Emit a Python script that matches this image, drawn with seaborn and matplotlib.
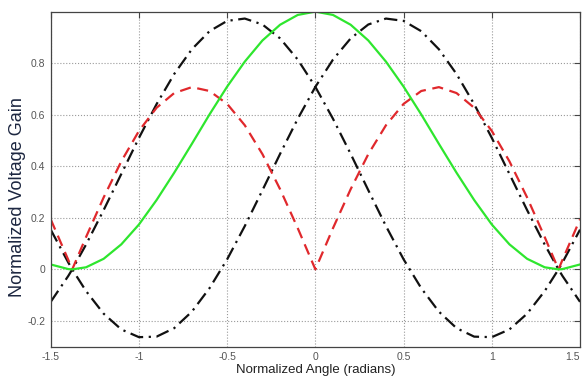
import matplotlib
matplotlib.use("Agg")
import matplotlib.pyplot as plt
import seaborn as sns
import pandas as pd

# Normalized angle (radians)
angle = [-1.5, -1.4, -1.378, -1.3, -1.2, -1.1, -1.0, -0.9, -0.8, -0.7, -0.6, -0.5, -0.4, -0.3,
         -0.2, -0.1, 0.0, 0.1, 0.2, 0.3, 0.4, 0.5, 0.6, 0.7, 0.8, 0.9, 1.0, 1.1, 1.2, 1.3,
         1.378, 1.4, 1.5]

green = [0.019, 0.001, 0.0, 0.008, 0.041, 0.097, 0.174, 0.269, 0.375, 0.487, 0.601, 0.709,
         0.806, 0.888, 0.949, 0.987, 1.000, 0.987, 0.949, 0.888, 0.806, 0.709, 0.601, 0.487,
         0.375, 0.269, 0.174, 0.097, 0.041, 0.008, 0.0, 0.001, 0.019]

red = [0.194, 0.036, 0.0, 0.125, 0.279, 0.419, 0.537, 0.627, 0.684, 0.707, 0.692, 0.642,
       0.559, 0.447, 0.311, 0.160, 0.0, 0.160, 0.311, 0.447, 0.559, 0.642, 0.692, 0.707,
       0.684, 0.627, 0.537, 0.419, 0.279, 0.125, 0.0, 0.036, 0.194]

black_left = [-0.126, -0.025, 0.0, 0.096, 0.230, 0.370, 0.510, 0.641, 0.758, 0.854, 0.924,
              0.964, 0.973, 0.950, 0.896, 0.814, 0.708, 0.584, 0.448, 0.307, 0.168, 0.039,
              -0.073, -0.164, -0.228, -0.261, -0.263, -0.233, -0.172, -0.084, 0.0, 0.026, 0.154]

black_right = [0.154, 0.026, 0.0, -0.084, -0.172, -0.233, -0.263, -0.261, -0.228, -0.164,
               -0.073, 0.039, 0.168, 0.307, 0.448, 0.584, 0.708, 0.814, 0.896, 0.950, 0.973,
               0.964, 0.924, 0.854, 0.758, 0.641, 0.510, 0.370, 0.230, 0.096, 0.0, -0.025, -0.126]

x_ticks = [-1.5, -1, -0.5, 0, 0.5, 1, 1.5]
x_tick_labels = ["-1.5", "-1", "-0.5", "0", "0.5", "1", "1.5"]
y_ticks = [-0.2, 0, 0.2, 0.4, 0.6, 0.8]
y_tick_labels = ["-0.2", "0", "0.2", "0.4", "0.6", "0.8"]

sns.set_style("white")
plt.rcParams["font.family"] = ["Liberation Sans", "DejaVu Sans"]

fig = plt.figure(figsize=(5.85, 3.83), dpi=100)
ax = fig.add_axes([0.0867, 0.0948, 0.9048, 0.8749])

series = [
    (black_left, "#111111", (0, (6, 2.5, 1, 2.5))),
    (black_right, "#111111", (0, (6, 2.5, 1, 2.5))),
    (red, "#e0282c", (0, (5, 3))),
    (green, "#2ee62e", "-"),
]
for vals, col, ls in series:
    df = pd.DataFrame({"x": angle, "y": vals})
    sns.lineplot(data=df, x="x", y="y", ax=ax, color=col, linewidth=1.6,
                 estimator=None, sort=False)
    ax.lines[-1].set_linestyle(ls)

ax.set_xlim(-1.5, 1.5)
ax.set_ylim(-0.3, 1.0)
ax.set_xticks(x_ticks)
ax.set_xticklabels(x_tick_labels)
ax.set_yticks(y_ticks)
ax.set_yticklabels(y_tick_labels)
ax.tick_params(direction="in", length=4, width=0.8, labelsize=7.5, colors="#444444",
               labelcolor="#555555", top=True, right=True, pad=4)
ax.get_xticklabels()[-1].set_horizontalalignment("right")
ax.grid(True, linestyle=":", color="#9a9a9a", linewidth=0.8)
for s in ax.spines.values():
    s.set_color("#444444")
    s.set_linewidth(0.9)
    s.set_visible(True)

ax.set_xlabel("Normalized Angle (radians)", fontsize=9.5, color="#222222", labelpad=1)
ax.set_ylabel("Normalized Voltage Gain", fontsize=13, color="#1c2640")
ax.yaxis.set_label_coords(-0.046, 0.448)

fig.savefig("out.png", dpi=100)
